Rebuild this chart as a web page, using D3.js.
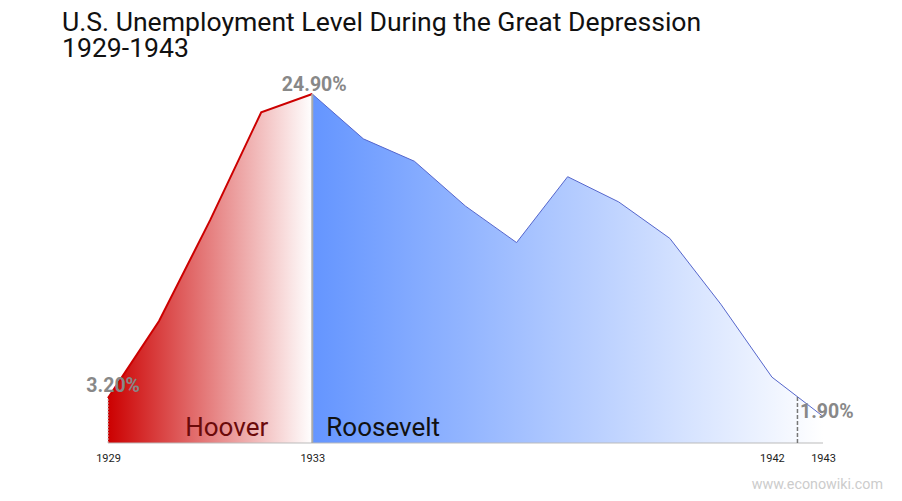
<!DOCTYPE html>
<html><head><meta charset="utf-8">
<script src="https://cdn.jsdelivr.net/npm/d3@7"></script>
<style>body{margin:0;background:#fff}svg{display:block}</style>
</head><body><svg id="c" width="902" height="501"></svg>
<script>
const years = [1929,1930,1931,1932,1933,1934,1935,1936,1937,1938,1939,1940,1941,1942,1943];
const rates = [3.2,8.7,15.9,23.6,24.9,21.7,20.1,16.9,14.3,19.0,17.2,14.6,9.9,4.7,1.9];
const tickYears = [1929,1933,1942,1943];
const presidents = ["Hoover","Roosevelt"];
const termStart = [1929,1933];
const termEnd = [1933,1943];
const markerYear = 1942.5;
const titleLines = ["U.S. Unemployment Level During the Great Depression","1929-1943"];

const svg = d3.select("#c");
const x = d3.scaleLinear().domain([1929,1943]).range([108,823]);
const y = d3.scaleLinear().domain([0,24.9]).range([443,94]);
const data = years.map((yr,i)=>({yr, v:rates[i]}));
const interp = yr => {
  const i = Math.min(Math.floor(yr-1929), years.length-2);
  const t = yr - years[i];
  return rates[i] + (rates[i+1]-rates[i])*t;
};

const defs = svg.append("defs");
const gR = defs.append("linearGradient").attr("id","gR").attr("gradientUnits","userSpaceOnUse")
  .attr("x1",x(1929)).attr("x2",x(1933)).attr("y1",0).attr("y2",0);
gR.append("stop").attr("offset",0).attr("stop-color","#cc0000");
gR.append("stop").attr("offset",1).attr("stop-color","#ffffff");
const gB = defs.append("linearGradient").attr("id","gB").attr("gradientUnits","userSpaceOnUse")
  .attr("x1",x(1933)).attr("x2",x(1943)).attr("y1",0).attr("y2",0);
gB.append("stop").attr("offset",0).attr("stop-color","#6495ff");
gB.append("stop").attr("offset",1).attr("stop-color","#ffffff");

const area = d3.area().x(d=>x(d.yr)).y0(y(0)).y1(d=>y(d.v));
const line = d3.line().x(d=>x(d.yr)).y(d=>y(d.v));

const hoover = data.filter(d=>d.yr>=termStart[0] && d.yr<=termEnd[0]);
const roose = data.filter(d=>d.yr>=termStart[1] && d.yr<=termEnd[1]);

svg.append("path").datum(hoover).attr("d",area).attr("fill","url(#gR)");
svg.append("path").datum(roose).attr("d",area).attr("fill","url(#gB)");
svg.append("path").datum(roose).attr("d",line).attr("fill","none").attr("stroke","#5566cc").attr("stroke-width",1);
svg.append("path").datum(hoover).attr("d",line).attr("fill","none").attr("stroke","#cc0000").attr("stroke-width",2);

svg.append("line").attr("x1",x(1929)).attr("x2",x(1943)).attr("y1",y(0)).attr("y2",y(0))
  .attr("stroke","#bbb").attr("stroke-width",1);
svg.append("line").attr("x1",x(1929)).attr("x2",x(1929)).attr("y1",y(0)).attr("y2",y(rates[0]))
  .attr("stroke","#ccc").attr("stroke-width",1).attr("stroke-dasharray","2,1");
svg.append("line").attr("x1",x(1933)).attr("x2",x(1933)).attr("y1",y(0)).attr("y2",y(rates[4]))
  .attr("stroke","#aaa").attr("stroke-width",2);
svg.append("line").attr("x1",x(markerYear)).attr("x2",x(markerYear)).attr("y1",y(0)).attr("y2",y(interp(markerYear)))
  .attr("stroke","#777").attr("stroke-width",1.5).attr("stroke-dasharray","4,2");

const ax = svg.append("g").attr("transform",`translate(0,${y(0)})`)
  .call(d3.axisBottom(x).tickValues(tickYears).tickFormat(d3.format("d")).tickSize(0).tickPadding(11));
ax.select(".domain").remove();
ax.selectAll("text").attr("font-family","Roboto, sans-serif").attr("font-size",11).attr("fill","#222");

const lab = (yr, anchor, dx, dy) => svg.append("text")
  .attr("x",x(yr)+dx).attr("y",y(rates[years.indexOf(yr)])+dy).attr("text-anchor",anchor)
  .attr("font-family","Roboto, sans-serif").attr("font-weight","bold").attr("font-size",19.5)
  .attr("fill","#888").text(rates[years.indexOf(yr)].toFixed(2)+"%");
lab(1929,"end",32,-6);
lab(1933,"middle",2,-3);
lab(1943,"start",-23,2);

svg.append("text").attr("x",x(termEnd[0])-44).attr("y",436).attr("text-anchor","end")
  .attr("font-family","Roboto, sans-serif").attr("font-size",26).attr("fill","#6b0a0a").text(presidents[0]);
svg.append("text").attr("x",x(termStart[1])+14).attr("y",436).attr("text-anchor","start")
  .attr("font-family","Roboto, sans-serif").attr("font-size",26).attr("fill","#111").text(presidents[1]);

const title = svg.append("text").attr("font-family","Roboto, sans-serif").attr("font-size",26.6).attr("fill","#111");
titleLines.forEach((t,i)=>title.append("tspan").attr("x",62).attr("y",31+i*26).text(t));

svg.append("text").attr("x",883).attr("y",489).attr("text-anchor","end")
  .attr("font-family","Roboto, sans-serif").attr("font-size",14.3).attr("fill","#cccccc").text("www.econowiki.com");
</script></body></html>
